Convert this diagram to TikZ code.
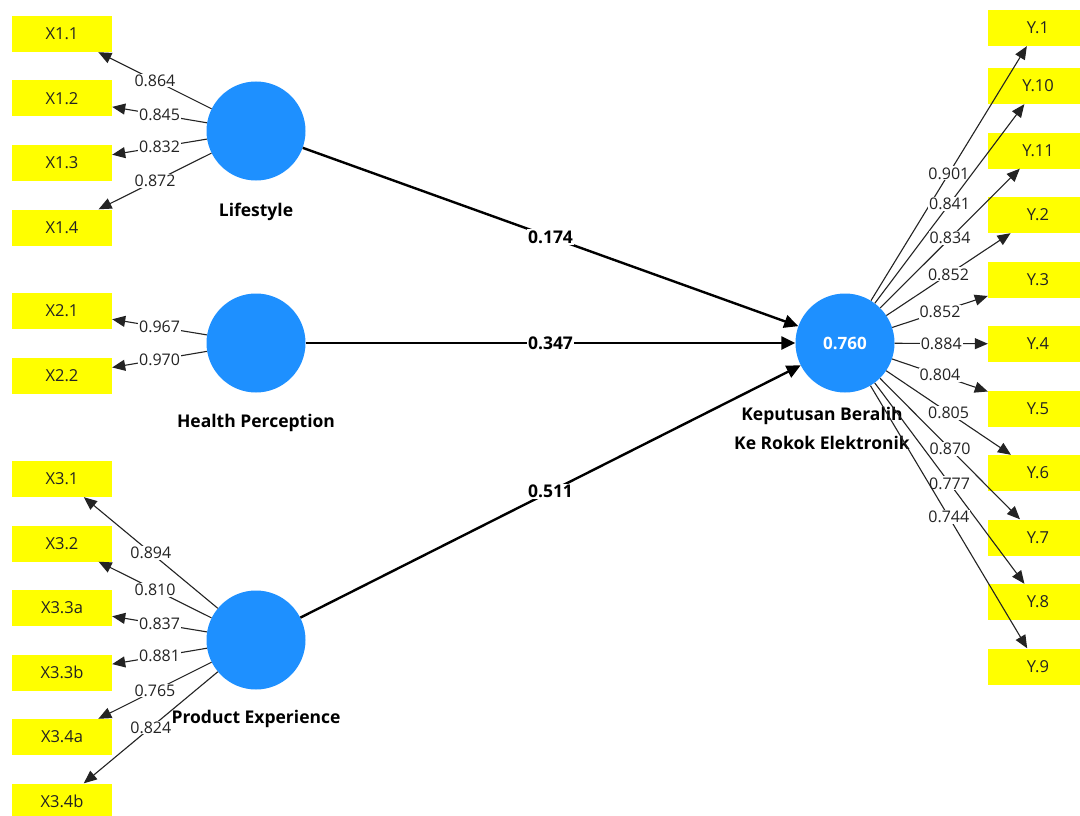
\documentclass[tikz,border=0pt]{standalone}
\usepackage{fontspec}
\setmainfont{Open Sans}
\usetikzlibrary{arrows.meta}
\definecolor{lvblue}{RGB}{30,144,255}
\definecolor{indyel}{RGB}{255,255,0}
\definecolor{txt}{RGB}{35,35,35}
\begin{document}
\begin{tikzpicture}[x=1pt,y=-1pt,
  ind/.style={fill=indyel, minimum width=100pt, minimum height=36pt, inner sep=0pt, font=\fontsize{16.5}{18}\selectfont, text=txt},
  lv/.style={circle, fill=lvblue, minimum size=99pt, inner sep=0pt},
  lvname/.style={font=\bfseries\fontsize{17.5}{29}\selectfont, text=black, align=center},
  load/.style={draw=txt, line width=1.1pt, -{Triangle[length=13pt,width=11pt]}},
  pathc/.style={draw=black, line width=2.4pt, -{Triangle[length=14pt,width=13pt]}},
  lab/.style={fill=white, inner sep=1pt, font=\fontsize{16}{18}\selectfont, text=txt},
  coef/.style={fill=white, inner sep=1.5pt, font=\bfseries\fontsize{17.5}{19}\selectfont, text=black},
]
\useasboundingbox (0,0) rectangle (1080,816);
\fill[white] (0,0) rectangle (1080,816);
\clip (0,0) rectangle (1080,816);

% latent variables
\node[lv] (L) at (256,131) {};
\node[lv] (H) at (256,343) {};
\node[lv] (P) at (256,640) {};
\node[lv, text=white, font=\bfseries\fontsize{17}{19}\selectfont] (K) at (845,343) {0.760};

\node[lvname] (Ln) at (256,212) {Lifestyle};
\node[lvname] (Hn) at (256,423) {Health Perception};
\node[lvname] (Pn) at (256,719) {Product Experience};
\node[lvname] (Kn) at (822,428) {Keputusan Beralih\\Ke Rokok Elektronik};

% left indicators
\node[ind] (x11) at (62,34) {X1.1};
\node[ind] (x12) at (62,98.5) {X1.2};
\node[ind] (x13) at (62,163) {X1.3};
\node[ind] (x14) at (62,227.5) {X1.4};
\node[ind] (x21) at (62,311) {X2.1};
\node[ind] (x22) at (62,376) {X2.2};
\node[ind] (x31) at (62,479) {X3.1};
\node[ind] (x32) at (62,543.5) {X3.2};
\node[ind] (x33a) at (62,608) {X3.3a};
\node[ind] (x33b) at (62,672.5) {X3.3b};
\node[ind] (x34a) at (62,737) {X3.4a};
\node[ind] (x34b) at (62,801.5) {X3.4b};

% right indicators
\node[ind] (y1) at (1038,28) {Y.1};
\node[ind] (y10) at (1038,86) {Y.10};
\node[ind] (y11) at (1038,150.5) {Y.11};
\node[ind] (y2) at (1038,215) {Y.2};
\node[ind] (y3) at (1038,279.5) {Y.3};
\node[ind] (y4) at (1038,344) {Y.4};
\node[ind] (y5) at (1038,408.5) {Y.5};
\node[ind] (y6) at (1038,473) {Y.6};
\node[ind] (y7) at (1038,537.5) {Y.7};
\node[ind] (y8) at (1038,602) {Y.8};
\node[ind] (y9) at (1038,666.5) {Y.9};

% loadings left
\draw[load] (L) -- node[lab]{0.864} (x11);
\draw[load] (L) -- node[lab]{0.845} (x12);
\draw[load] (L) -- node[lab]{0.832} (x13);
\draw[load] (L) -- node[lab]{0.872} (x14);
\draw[load] (H) -- node[lab]{0.967} (x21);
\draw[load] (H) -- node[lab]{0.970} (x22);
\draw[load] (P) -- node[lab]{0.894} (x31);
\draw[load] (P) -- node[lab]{0.810} (x32);
\draw[load] (P) -- node[lab]{0.837} (x33a);
\draw[load] (P) -- node[lab]{0.881} (x33b);
\draw[load] (P) -- node[lab]{0.765} (x34a);
\draw[load] (P) -- node[lab]{0.824} (x34b);

% loadings right
\draw[load] (K) -- node[lab]{0.901} (y1);
\draw[load] (K) -- node[lab]{0.841} (y10);
\draw[load] (K) -- node[lab]{0.834} (y11);
\draw[load] (K) -- node[lab]{0.852} (y2);
\draw[load] (K) -- node[lab]{0.852} (y3);
\draw[load] (K) -- node[lab]{0.884} (y4);
\draw[load] (K) -- node[lab]{0.804} (y5);
\draw[load] (K) -- node[lab]{0.805} (y6);
\draw[load] (K) -- node[lab]{0.870} (y7);
\draw[load] (K) -- node[lab]{0.777} (y8);
\draw[load] (K) -- node[lab]{0.744} (y9);

% structural paths
\draw[pathc] (L) -- node[coef]{0.174} (K);
\draw[pathc] (H) -- node[coef]{0.347} (K);
\draw[pathc] (P) -- node[coef]{0.511} (K);
\end{tikzpicture}
\end{document}
